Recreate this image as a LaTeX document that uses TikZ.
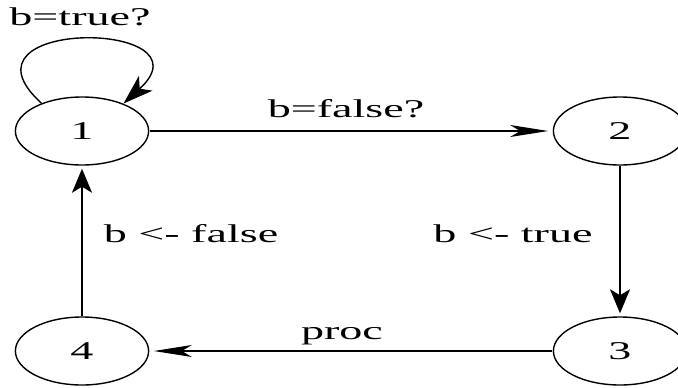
\documentclass[tikz,border=0pt]{standalone}
\usepackage{fontspec}
\setmainfont{Liberation Serif}
\usetikzlibrary{shapes.geometric, arrows.meta, positioning}

\begin{document}
\begin{tikzpicture}[x=0.5pt, y=0.5pt,
  state/.style={draw, ellipse, line width=0.7pt, minimum width=37pt, minimum height=34pt, inner sep=0pt, font=\fontsize{12.8}{15}\selectfont, xscale=1.8},
  lbl/.style={font=\fontsize{12.8}{15}\selectfont, inner sep=0pt, anchor=base, xscale=1.8},
  harrow/.style={line width=0.6pt, -{Stealth[length=19pt, width=6pt, inset=5pt]}, shorten >=2pt},
  varrow/.style={line width=1pt, -{Stealth[length=12pt, width=10pt, inset=3pt]}, shorten >=1.5pt}
]
  \useasboundingbox (0,0) rectangle (678,387);

  \node[state] (s1) at (82,256) {1};
  \node[state] (s2) at (620,256) {2};
  \node[state] (s3) at (620,36) {3};
  \node[state] (s4) at (82,36) {4};

  % self loop on 1
  \draw[line width=0.7pt, -{Stealth[length=15pt, width=10pt, inset=4pt]}] (s1.129) .. controls +(-95,86) and +(92,84) .. (s1.50);
  \node[lbl] (ltrue) at (80,362) {b=true?};

  % cycle
  \draw[harrow] (s1.east) -- (s2.west);
  \draw[varrow] (s2.south) -- (s3.north);
  \draw[harrow] (s3.west) -- (s4.east);
  \draw[varrow] (s4.north) -- (s1.south);

  \node[lbl] (lfalse) at (346,270) {b=false?};
  \node[lbl] (lsettrue) at (513,145) {b <- true};
  \node[lbl] (lsetfalse) at (191,145) {b <- false};
  \node[lbl] (lproc) at (342,48) {proc};
\end{tikzpicture}
\end{document}
